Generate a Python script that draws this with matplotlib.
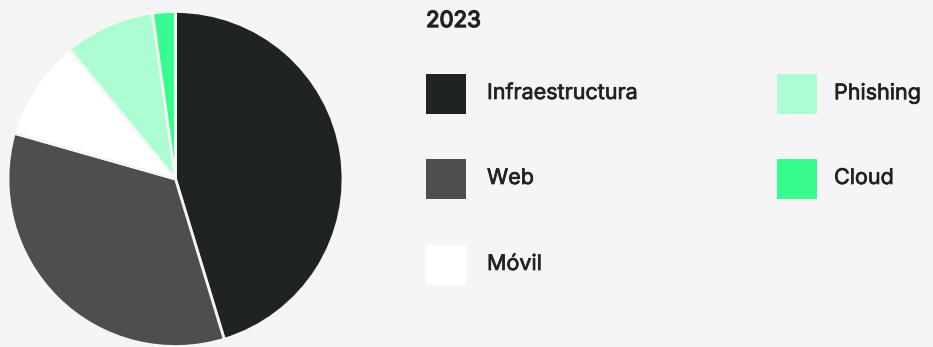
import matplotlib
matplotlib.use("Agg")
import matplotlib.pyplot as plt
from matplotlib.patches import Rectangle
import matplotlib.patheffects as pe

plt.rcParams['font.family'] = ['Inter', 'DejaVu Sans']

# reparto de vulnerabilidades por tipo de auditoría, 2023
anio = "2023"
categorias = ['Infraestructura', 'Web', 'Móvil', 'Phishing', 'Cloud']
porcentajes = [45.3, 34.1, 9.7, 8.7, 2.2]
colores = ['#1f2324', '#4e4e4e', '#ffffff', '#adfdd2', '#38fd8e']

fondo = '#f5f5f5'
tinta = '#222222'
W, H = 933, 347

fig = plt.figure(figsize=(W / 100, H / 100), dpi=100, facecolor=fondo)

# tarta: centro (175.5, 179) px, radio 167.5 px
cx, cy, r = 175.5, 179, 167.5
ax = fig.add_axes([(cx - r) / W, (H - cy - r) / H, 2 * r / W, 2 * r / H])
ax.pie(porcentajes, colors=colores, startangle=90, counterclock=False,
       radius=1, wedgeprops=dict(edgecolor=fondo, linewidth=2))
ax.set_xlim(-1, 1)
ax.set_ylim(-1, 1)
ax.set_aspect('auto')
ax.axis('off')

# Inter solo trae el peso normal: se engorda el trazo a mano
grueso = [pe.withStroke(linewidth=0.5, foreground=tinta)]
negrita = [pe.withStroke(linewidth=1.0, foreground=tinta)]

# leyenda a mano, dos columnas
fig.text(426 / W, 1 - 21 / H, anio, fontsize=16, color=tinta,
         va='center', ha='left', path_effects=negrita)

col_x = [426, 777]
texto_dx = [61, 57]
fila_y = [94, 179, 265]
lado = 40
for i, (cat, col) in enumerate(zip(categorias, colores)):
    c = i // 3
    x0 = col_x[c]
    yc = fila_y[i % 3]
    fig.patches.append(Rectangle((x0 / W, (H - yc - lado / 2) / H), lado / W, lado / H,
                                 transform=fig.transFigure, facecolor=col,
                                 edgecolor='none'))
    fig.text((x0 + texto_dx[c]) / W, 1 - (yc - 1) / H, cat, fontsize=15.5,
             color=tinta, va='center', ha='left', path_effects=grueso)

fig.savefig('out.png', dpi=100, facecolor=fondo)
